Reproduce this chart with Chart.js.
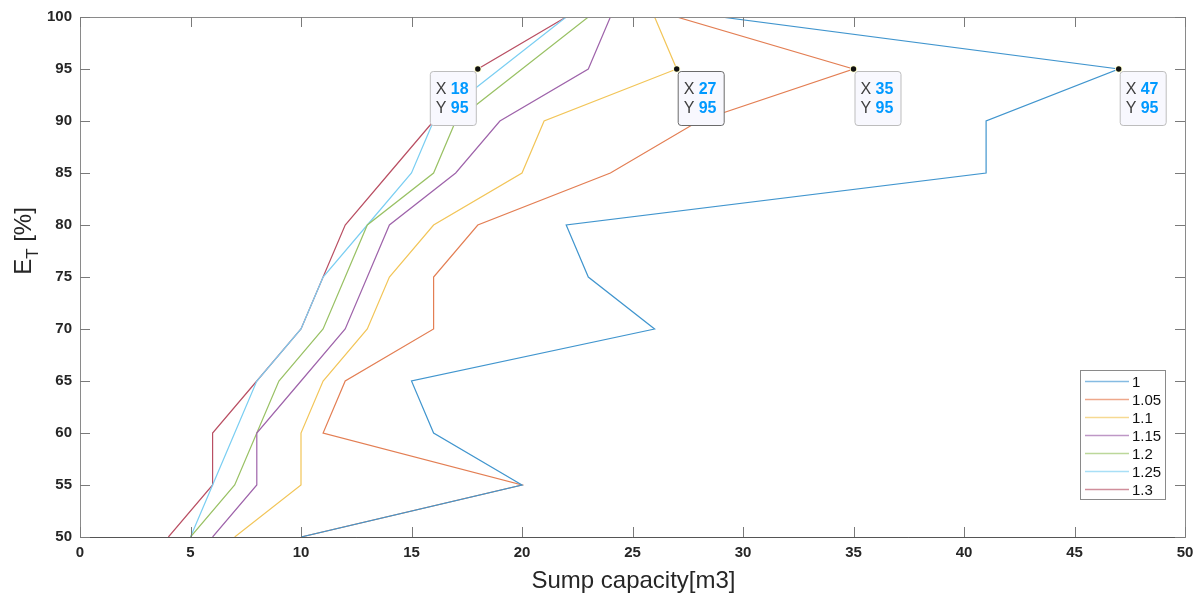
<!DOCTYPE html>
<html>
<head>
<meta charset="utf-8">
<script src="https://cdn.jsdelivr.net/npm/chart.js@4.4.1/dist/chart.umd.min.js"></script>
<style>
  html, body { margin: 0; padding: 0; background: #fff; }
  canvas { display: block; }
</style>
</head>
<body>
<canvas id="c" width="1201" height="596"></canvas>
<script>
// ---- data ----
const etLevels = [50, 55, 60, 65, 70, 75, 80, 85, 90, 95, 100];
const seriesNames = ['1', '1.05', '1.1', '1.15', '1.2', '1.25', '1.3'];
const cap_1_00 = [10, 20, 16, 15, 26, 23, 22, 41, 41, 47, 29];
const cap_1_05 = [10, 20, 11, 12, 16, 16, 18, 24, 28, 35, 27];
const cap_1_10 = [7, 10, 10, 11, 13, 14, 16, 20, 21, 27, 26];
const cap_1_15 = [6, 8, 8, 10, 12, 13, 14, 17, 19, 23, 24];
const cap_1_20 = [5, 7, 8, 9, 11, 12, 13, 16, 17, 20, 23];
const cap_1_25 = [5, 6, 7, 8, 10, 11, 13, 15, 16, 19, 22];
const cap_1_30 = [4, 6, 6, 8, 10, 11, 12, 14, 16, 18, 22];
const seriesValues = [cap_1_00, cap_1_05, cap_1_10, cap_1_15, cap_1_20, cap_1_25, cap_1_30];
const xTicks = [0, 5, 10, 15, 20, 25, 30, 35, 40, 45, 50];
const yTicks = [50, 55, 60, 65, 70, 75, 80, 85, 90, 95, 100];
const tipX = [18, 27, 35, 47];
const tipY = [95, 95, 95, 95];
const tipSide = ['left', 'right', 'right', 'right'];
const tipSelected = [false, true, false, false];
const xTitle = 'Sump capacity[m3]';

const colors = ['#4095CE', '#E37E53', '#F2C558', '#9E63AA', '#99C164', '#7ACEF2', '#B94F63'];
const legendColors = ['#85BBE2', '#EEA88B', '#F6D992', '#BE97C6', '#BCD89A', '#A8DFF6', '#D08E9B'];
const FONT = '"Liberation Sans", Arial, sans-serif';

const datasets = seriesNames.map((name, i) => ({
  label: name,
  data: etLevels.map((y, k) => ({ x: seriesValues[i][k], y: y })),
  borderColor: colors[i],
  backgroundColor: colors[i],
  borderWidth: 1.2,
  pointRadius: 0,
  showLine: true,
  tension: 0,
  fill: false
}));

const decor = {
  id: 'decor',
  afterDraw(chart) {
    const ctx = chart.ctx;
    const a = chart.chartArea;
    const xs = chart.scales.x, ys = chart.scales.y;
    ctx.save();
    // frame
    ctx.strokeStyle = '#8a8a8a';
    ctx.lineWidth = 1;
    ctx.strokeRect(Math.round(a.left) + 0.5, Math.round(a.top) + 0.5,
                   Math.round(a.right - a.left), Math.round(a.bottom - a.top));
    ctx.strokeStyle = '#555';
    ctx.beginPath();
    ctx.moveTo(a.left, Math.round(a.bottom) + 0.5); ctx.lineTo(a.right, Math.round(a.bottom) + 0.5);
    ctx.stroke();
    // inward ticks
    const tl = 10;
    ctx.strokeStyle = '#7a7a7a';
    ctx.beginPath();
    xTicks.forEach(v => {
      const px = Math.round(xs.getPixelForValue(v)) + 0.5;
      ctx.moveTo(px, a.bottom); ctx.lineTo(px, a.bottom - tl);
      ctx.moveTo(px, a.top); ctx.lineTo(px, a.top + tl);
    });
    yTicks.forEach(v => {
      const py = Math.round(ys.getPixelForValue(v)) + 0.5;
      ctx.moveTo(a.left, py); ctx.lineTo(a.left + tl, py);
      ctx.moveTo(a.right, py); ctx.lineTo(a.right - tl, py);
    });
    ctx.stroke();

    // x title
    ctx.fillStyle = '#262626';
    ctx.font = '24px ' + FONT;
    ctx.textAlign = 'center';
    ctx.textBaseline = 'middle';
    ctx.fillText(xTitle, (a.left + a.right) / 2 + 1, 581);

    // y title E_T [%]
    ctx.save();
    ctx.translate(24, 241);
    ctx.rotate(-Math.PI / 2);
    ctx.textAlign = 'left';
    ctx.textBaseline = 'middle';
    ctx.font = '24px ' + FONT;
    const wE = ctx.measureText('E').width;
    const wRest = ctx.measureText(' [%]').width;
    ctx.font = '17px ' + FONT;
    const wT = ctx.measureText('T').width;
    const total = wE + wT + wRest;
    let x0 = -total / 2;
    ctx.font = '24px ' + FONT;
    ctx.fillText('E', x0, 0);
    ctx.font = '17px ' + FONT;
    ctx.fillText('T', x0 + wE, 9);
    ctx.font = '24px ' + FONT;
    ctx.fillText(' [%]', x0 + wE + wT, 0);
    ctx.restore();

    // legend
    const lx = 1080, ly = 370, lw = 85, lh = 129;
    ctx.fillStyle = '#ffffff';
    ctx.fillRect(lx, ly, lw, lh);
    ctx.strokeStyle = '#8a8a8a';
    ctx.lineWidth = 1;
    ctx.strokeRect(lx + 0.5, ly + 0.5, lw, lh);
    ctx.font = '15px ' + FONT;
    ctx.textAlign = 'left';
    ctx.textBaseline = 'middle';
    seriesNames.forEach((name, i) => {
      const yy = 381.5 + i * 18;
      ctx.strokeStyle = legendColors[i];
      ctx.lineWidth = 1.5;
      ctx.beginPath();
      ctx.moveTo(1085, yy); ctx.lineTo(1129, yy);
      ctx.stroke();
      ctx.fillStyle = '#111';
      ctx.fillText(name, 1132, yy + 1);
    });

    // data tips
    tipX.forEach((tx, i) => {
      const px = xs.getPixelForValue(tx);
      const py = ys.getPixelForValue(tipY[i]);
      const bw = 46, bh = 54;
      const bx = tipSide[i] === 'left' ? px - 2 - bw : px + 1;
      const by = py + 2;
      ctx.beginPath();
      if (ctx.roundRect) ctx.roundRect(bx + 0.5, by + 0.5, bw, bh, 3);
      else ctx.rect(bx + 0.5, by + 0.5, bw, bh);
      ctx.fillStyle = '#f8f8fe';
      ctx.fill();
      ctx.strokeStyle = tipSelected[i] ? '#6b6b6b' : '#bdbdbd';
      ctx.lineWidth = 1;
      ctx.stroke();
      ctx.textBaseline = 'middle';
      ctx.textAlign = 'left';
      ctx.font = '16px ' + FONT;
      ctx.fillStyle = '#404040';
      ctx.fillText('X', bx + 6, by + 19);
      ctx.fillText('Y', bx + 6, by + 38);
      ctx.font = 'bold 16px ' + FONT;
      ctx.fillStyle = '#0099FF';
      ctx.fillText(String(tx), bx + 21, by + 19);
      ctx.fillText(String(tipY[i]), bx + 21, by + 38);
      // marker
      ctx.beginPath();
      ctx.arc(px, py, 3.6, 0, Math.PI * 2);
      ctx.fillStyle = '#ffffcc';
      ctx.fill();
      ctx.beginPath();
      ctx.arc(px, py, 2.7, 0, Math.PI * 2);
      ctx.fillStyle = '#111';
      ctx.fill();
    });
    ctx.restore();
  }
};

new Chart(document.getElementById('c'), {
  type: 'scatter',
  data: { datasets },
  options: {
    responsive: false,
    animation: false,
    devicePixelRatio: 1,
    layout: { padding: { top: 16, right: 16, left: 0, bottom: 0 } },
    plugins: { legend: { display: false }, tooltip: { enabled: false } },
    scales: {
      x: {
        type: 'linear', min: 0, max: 50,
        afterFit(s) { s.height = 59; },
        afterBuildTicks(s) { s.ticks = xTicks.map(v => ({ value: v })); },
        grid: { display: false, drawTicks: false }, border: { display: false },
        ticks: { padding: 7, color: '#262626', font: { family: FONT, size: 15, weight: 'bold' }, maxRotation: 0 }
      },
      y: {
        type: 'linear', min: 50, max: 100,
        afterFit(s) { s.width = 80; },
        afterBuildTicks(s) { s.ticks = yTicks.map(v => ({ value: v })); },
        grid: { display: false, drawTicks: false }, border: { display: false },
        ticks: { padding: 8, color: '#262626', font: { family: FONT, size: 15, weight: 'bold' } }
      }
    }
  },
  plugins: [decor]
});
</script>
</body>
</html>
